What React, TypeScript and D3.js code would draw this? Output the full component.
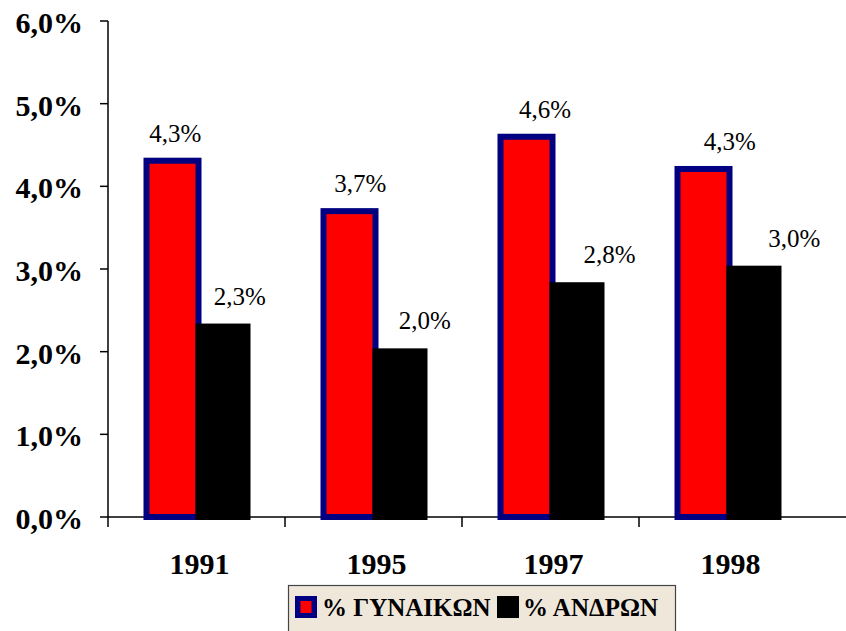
import React from "react";
import * as d3 from "d3";

const categories = ["1991", "1995", "1997", "1998"];
const womenValues = [4.31, 3.7, 4.6, 4.21];
const menValues = [2.34, 2.04, 2.84, 3.04];
const womenLabels = ["4,3%", "3,7%", "4,6%", "4,3%"];
const menLabels = ["2,3%", "2,0%", "2,8%", "3,0%"];
const yTicks = [0, 1, 2, 3, 4, 5, 6];
const legendLabels = ["% ΓΥΝΑΙΚΩΝ", "% ΑΝΔΡΩΝ"];

const W = 846;
const H = 631;

export default function App() {
  const y = d3.scaleLinear().domain([0, 6]).range([517, 21]);
  const x = d3.scaleBand<string>().domain(categories).range([108, 816]);
  const xl = d3.scaleBand<string>().domain(categories).range([115.4, 854.8]);
  const fmt = (v: number) => d3.format(".1f")(v).replace(".", ",") + "%";
  const y0 = y(0);
  const axisX = 108;
  const serif = "Liberation Serif";

  return (
    <svg
      width={W}
      height={H}
      style={{ position: "absolute", left: 0, top: 0, background: "#fff", fontFamily: serif }}
    >
      {/* y axis */}
      <line x1={axisX} x2={axisX} y1={y(6)} y2={y0} stroke="#000" strokeWidth={1.5} />
      {yTicks.map((t) => (
        <g key={t}>
          <line x1={axisX - 8} x2={axisX} y1={y(t)} y2={y(t)} stroke="#000" strokeWidth={1.5} />
          <text
            x={83}
            y={y(t) + 12}
            textAnchor="end"
            fontSize={30}
            fontWeight="bold"
            style={{ fontFamily: serif }}
          >
            {fmt(t)}
          </text>
        </g>
      ))}
      {/* x axis */}
      <line x1={axisX} x2={W} y1={y0} y2={y0} stroke="#000" strokeWidth={1.5} />
      {categories.map((c) => (
        <line
          key={"t" + c}
          x1={x(c)!}
          x2={x(c)!}
          y1={y0}
          y2={y0 + 10}
          stroke="#000"
          strokeWidth={1.5}
        />
      ))}
      {categories.map((c) => (
        <text
          key={"l" + c}
          x={x(c)! + x.bandwidth() / 2 + 3}
          y={574}
          textAnchor="middle"
          fontSize={30}
          fontWeight="bold"
          style={{ fontFamily: serif }}
        >
          {c}
        </text>
      ))}
      {/* bars */}
      {categories.map((c, i) => {
        const cx = x(c)! + x.bandwidth() / 2;
        return (
          <g key={"b" + c}>
            <rect
              x={cx - 50}
              y={y(womenValues[i])}
              width={52}
              height={y0 - y(womenValues[i])}
              fill="#FF0000"
              stroke="#000080"
              strokeWidth={6}
            />
            <rect
              x={cx - 1}
              y={y(menValues[i])}
              width={55}
              height={y0 + 3 - y(menValues[i])}
              fill="#000"
            />
          </g>
        );
      })}
      {/* value labels */}
      {categories.map((c, i) => {
        const lc = xl(c)! + xl.bandwidth() / 2;
        return (
          <g key={"v" + c}>
            <text
              x={lc - 32.5}
              y={y(womenValues[i]) - 19}
              textAnchor="middle"
              fontSize={25}
              style={{ fontFamily: serif }}
            >
              {womenLabels[i]}
            </text>
            <text
              x={lc + 32}
              y={y(menValues[i]) - 19}
              textAnchor="middle"
              fontSize={25}
              style={{ fontFamily: serif }}
            >
              {menLabels[i]}
            </text>
          </g>
        );
      })}
      {/* legend */}
      <g>
        <rect x={288.5} y={585.5} width={387} height={60} fill="#EFE7DA" stroke="#444" strokeWidth={1.2} />
        <rect x={295} y={596} width={22} height={22} fill="#000080" />
        <rect x={300.5} y={601} width={11} height={12} fill="#FF0000" />
        <text x={322} y={616} fontSize={25} fontWeight="bold" style={{ fontFamily: serif, whiteSpace: "pre" }}>
          {legendLabels[0]}
        </text>
        <rect x={497} y={596} width={22} height={22} fill="#000" />
        <text x={523} y={616} fontSize={25} fontWeight="bold" style={{ fontFamily: serif, whiteSpace: "pre" }}>
          {legendLabels[1]}
        </text>
      </g>
    </svg>
  );
}
